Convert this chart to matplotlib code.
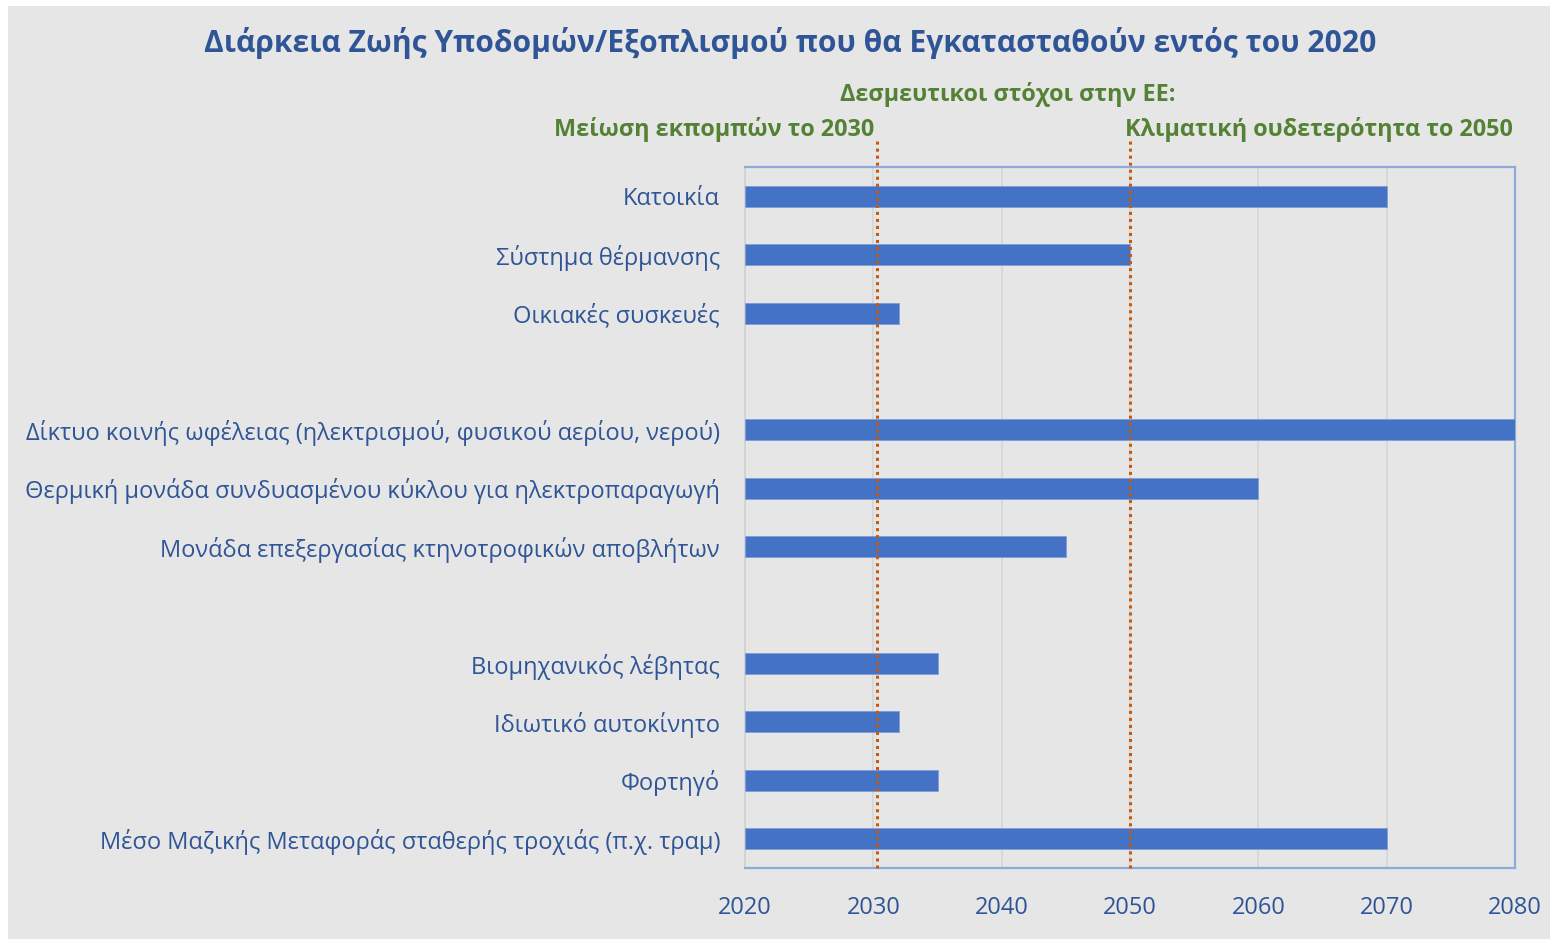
import matplotlib
matplotlib.use("Agg")
import matplotlib.pyplot as plt
from matplotlib.patches import Rectangle

plt.rcParams['font.family'] = ['Open Sans', 'Noto Sans', 'DejaVu Sans']

# categories from top to bottom, '' = empty spacer row
categories = [
    "Κατοικία",
    "Σύστημα θέρμανσης",
    "Οικιακές συσκευές",
    "",
    "Δίκτυο κοινής ωφέλειας (ηλεκτρισμού, φυσικού αερίου, νερού)",
    "Θερμική μονάδα συνδυασμένου κύκλου για ηλεκτροπαραγωγή",
    "Μονάδα επεξεργασίας κτηνοτροφικών αποβλήτων",
    "",
    "Βιομηχανικός λέβητας",
    "Ιδιωτικό αυτοκίνητο",
    "Φορτηγό",
    "Μέσο Μαζικής Μεταφοράς σταθερής τροχιάς (π.χ. τραμ)",
]
end_year = [2070, 2050, 2032, None, 2080, 2060, 2045, None, 2035, 2032, 2035, 2070]
start_year = 2020
targets = [2030.3, 2050]   # dotted lines as drawn in the source (2030 one sits a bit right)
xticks = [2020, 2030, 2040, 2050, 2060, 2070, 2080]

TITLE = "Διάρκεια Ζωής Υποδομών/Εξοπλισμού που θα Εγκατασταθούν εντός του 2020"
GOALS = "Δεσμευτικοι στόχοι στην ΕΕ:"
GOAL_2030 = "Μείωση εκπομπών το 2030"
GOAL_2050 = "Κλιματική ουδετερότητα το 2050"

BLUE = "#4472c4"
TXT_BLUE = "#2f5597"
GREEN = "#548235"
ORANGE = "#c55a11"
BG = "#e6e6e6"

fig = plt.figure(figsize=(15.5, 9.39), dpi=100, facecolor="white")
fig.patches.append(Rectangle((8 / 1550, 0), 1, 1 - 6 / 939, transform=fig.transFigure,
                             facecolor=BG, edgecolor="none", zorder=-10))

ax = fig.add_axes([745 / 1550, 71 / 939, 770 / 1550, 701 / 939])
ax.set_facecolor(BG)

ypos = list(range(len(categories)))
for y, e in zip(ypos, end_year):
    if e is not None:
        ax.barh(y, e - start_year, left=start_year, height=0.36, color=BLUE,
                edgecolor="#7f9fd8", linewidth=0.6, zorder=3)

ax.set_xlim(2020, 2080)
ax.set_ylim(len(categories) - 0.5, -0.5)
ax.set_xticks(xticks)
ax.set_yticks(ypos)
ax.set_yticklabels(categories)
ax.tick_params(axis="both", length=0, colors=TXT_BLUE, labelsize=17)
ax.tick_params(axis="x", pad=20)
ax.tick_params(axis="y", pad=18)
ax.grid(axis="x", color="#d6d6d6", linewidth=1.2, zorder=0)
ax.set_axisbelow(True)

for s in ["top", "right", "bottom"]:
    ax.spines[s].set_color("#8eaadb")
    ax.spines[s].set_linewidth(1.6)
ax.spines["left"].set_color("#d0d0d0")
ax.spines["left"].set_linewidth(1.2)

# target year dotted lines extending above the plot
for t in targets:
    ax.axvline(t, ymin=0, ymax=1.04, color=ORANGE, linestyle=(0, (1, 1.3)),
               linewidth=2.2, clip_on=False, zorder=4)

tr = ax.get_xaxis_transform()
ax.text(2040.5, 1.103, GOALS, transform=tr, ha="center", va="center",
        color=GREEN, fontsize=16.8, fontweight="bold")
ax.text(2030.1, 1.054, GOAL_2030, transform=tr, ha="right", va="center",
        color=GREEN, fontsize=16.8, fontweight="bold")
ax.text(2049.6, 1.054, GOAL_2050, transform=tr, ha="left", va="center",
        color=GREEN, fontsize=16.8, fontweight="bold")

fig.text(790 / 1550, 1 - 43 / 939, TITLE, ha="center", va="center",
         color=TXT_BLUE, fontsize=21.6, fontweight="bold")

fig.savefig("out.png", dpi=100, facecolor=fig.get_facecolor())
